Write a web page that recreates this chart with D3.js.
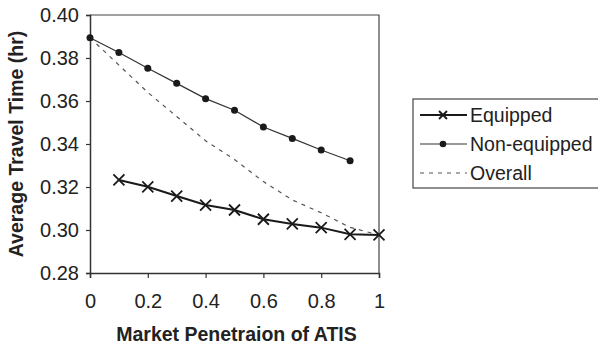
<!DOCTYPE html>
<html>
<head>
<meta charset="utf-8">
<script src="https://cdn.jsdelivr.net/npm/d3@7"></script>
<style>
  body { margin: 0; background: #fff; }
  text { font-family: Arial, "Liberation Sans", sans-serif; fill: #222; }
</style>
</head>
<body>
<script>
// data
var penetration = [0, 0.1, 0.2, 0.3, 0.4, 0.5, 0.6, 0.7, 0.8, 0.9, 1];
var equipped    = [null, 0.3233, 0.3201, 0.3158, 0.3116, 0.3093, 0.3050, 0.3028, 0.3011, 0.2980, 0.2977];
var nonEquipped = [0.3894, 0.3826, 0.3752, 0.3682, 0.3611, 0.3557, 0.3479, 0.3426, 0.3372, 0.3322, null];
var overall     = [0.3894, 0.3767, 0.3640, 0.3528, 0.3415, 0.3328, 0.3225, 0.3140, 0.3080, 0.3012, 0.2977];
var xTicks = [0, 0.2, 0.4, 0.6, 0.8, 1];
var yTicks = [0.28, 0.30, 0.32, 0.34, 0.36, 0.38, 0.40];
var legendNames = ["Equipped", "Non-equipped", "Overall"];

// Global Vars
var width = 598, height = 350;
var plotLeft = 90, plotRight = 379, plotTop = 15, plotBottom = 273;

var svg = d3.select("body").append("svg")
    .attr("width", width)
    .attr("height", height);

var x = d3.scaleLinear().domain([0, 1]).range([plotLeft, plotRight]);
var y = d3.scaleLinear().domain([0.28, 0.40]).range([plotBottom, plotTop]);

// frame (top and right)
svg.append("path")
    .attr("d", "M" + plotLeft + "," + plotTop + "H" + plotRight + "V" + plotBottom)
    .attr("fill", "none")
    .attr("stroke", "#444")
    .attr("stroke-width", 1.2);

var xAxis = svg.append("g")
    .attr("transform", "translate(0," + plotBottom + ")")
    .call(d3.axisBottom(x).tickValues(xTicks).tickSize(5).tickPadding(16)
        .tickFormat(function(d){ return d3.format("")(d); }));

var yAxis = svg.append("g")
    .attr("transform", "translate(" + plotLeft + ",0)")
    .call(d3.axisLeft(y).tickValues(yTicks).tickSize(4).tickPadding(7)
        .tickFormat(d3.format(".2f")));

[xAxis, yAxis].forEach(function(a){
    a.select(".domain").attr("stroke", "#333").attr("stroke-width", 1.5);
    a.selectAll(".tick line").attr("stroke", "#333").attr("stroke-width", 1.2);
    a.selectAll("text").attr("font-size", 20).attr("fill", "#222");
});

// axis titles
svg.append("text")
    .attr("x", (plotLeft + plotRight) / 2 + 2)
    .attr("y", 341)
    .attr("text-anchor", "middle")
    .attr("font-size", 19.5)
    .attr("font-weight", "bold")
    .text("Market Penetraion of ATIS");

svg.append("text")
    .attr("transform", "translate(23," + (plotTop + plotBottom) / 2 + ") rotate(-90)")
    .attr("text-anchor", "middle")
    .attr("font-size", 19.5)
    .attr("font-weight", "bold")
    .text("Average Travel Time (hr)");

var line = function(values){
    return d3.line()
        .defined(function(d, i){ return values[i] != null; })
        .x(function(d){ return x(d); })
        .y(function(d, i){ return y(values[i]); })(penetration);
};

// overall (dashed)
svg.append("path")
    .attr("d", line(overall))
    .attr("fill", "none")
    .attr("stroke", "#555")
    .attr("stroke-width", 1.2)
    .attr("stroke-dasharray", "4,5");

// non-equipped
svg.append("path")
    .attr("d", line(nonEquipped))
    .attr("fill", "none")
    .attr("stroke", "#333")
    .attr("stroke-width", 1.2);

svg.append("g").selectAll("circle")
    .data(penetration.filter(function(d, i){ return nonEquipped[i] != null; }))
    .enter().append("circle")
    .attr("cx", function(d){ return x(d); })
    .attr("cy", function(d){ return y(nonEquipped[penetration.indexOf(d)]); })
    .attr("r", 3.5)
    .attr("fill", "#1a1a1a");

// equipped
svg.append("path")
    .attr("d", line(equipped))
    .attr("fill", "none")
    .attr("stroke", "#1a1a1a")
    .attr("stroke-width", 2);

var cross = function(cx, cy, s){
    return "M" + (cx - s) + "," + (cy - s) + "L" + (cx + s) + "," + (cy + s) +
           "M" + (cx - s) + "," + (cy + s) + "L" + (cx + s) + "," + (cy - s);
};

svg.append("g").selectAll("path")
    .data(penetration.filter(function(d, i){ return equipped[i] != null; }))
    .enter().append("path")
    .attr("d", function(d){ return cross(x(d), y(equipped[penetration.indexOf(d)]), 5.5); })
    .attr("stroke", "#1a1a1a")
    .attr("stroke-width", 1.8);

// legend
var lg = svg.append("g").attr("transform", "translate(413,99)");
lg.append("rect")
    .attr("width", 200).attr("height", 89)
    .attr("fill", "#fff")
    .attr("stroke", "#444")
    .attr("stroke-width", 1.2);

var rows = lg.selectAll("g.row")
    .data(legendNames)
    .enter().append("g")
    .attr("class", "row")
    .attr("transform", function(d, i){ return "translate(0," + (16 + i * 29) + ")"; });

rows.append("line")
    .attr("x1", 7).attr("x2", 54)
    .attr("stroke", function(d, i){ return i == 0 ? "#1a1a1a" : (i == 1 ? "#333" : "#555"); })
    .attr("stroke-width", function(d, i){ return i == 0 ? 2 : 1.2; })
    .attr("stroke-dasharray", function(d, i){ return i == 2 ? "4,5" : null; });

rows.filter(function(d, i){ return i == 0; }).append("path")
    .attr("d", cross(30, 0, 4))
    .attr("stroke", "#1a1a1a")
    .attr("stroke-width", 1.8);

rows.filter(function(d, i){ return i == 1; }).append("circle")
    .attr("cx", 30).attr("r", 3.3)
    .attr("fill", "#1a1a1a");

rows.append("text")
    .attr("x", 57)
    .attr("dy", "0.35em")
    .attr("font-size", 19.5)
    .text(function(d){ return d; });
</script>
</body>
</html>
